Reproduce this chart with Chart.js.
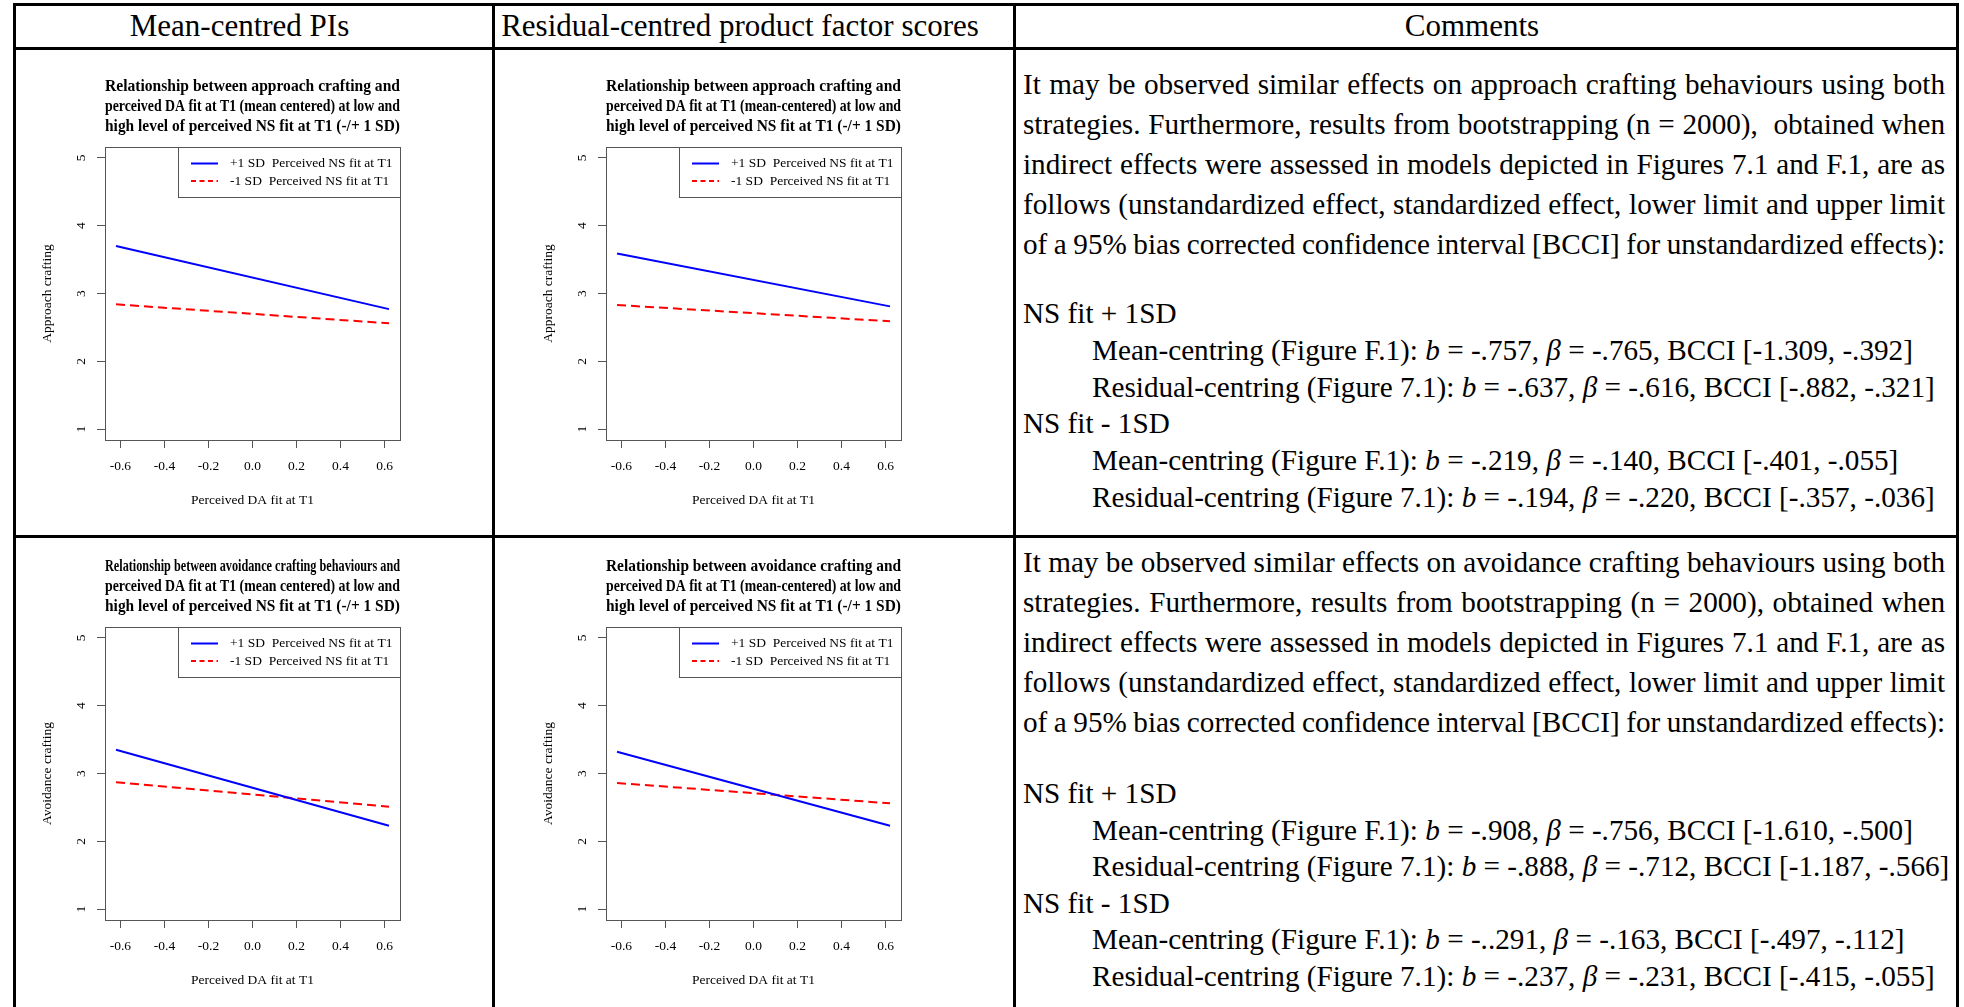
<!DOCTYPE html>
<html>
<head>
<meta charset="utf-8">
<script src="https://cdn.jsdelivr.net/npm/chart.js@4.4.1/dist/chart.umd.min.js"></script>
<style>
  body { margin: 0; background: #fff; }
  #page { position: relative; width: 1964px; height: 1007px; overflow: hidden; font-family: "Liberation Serif", "Times New Roman", serif; color: #000; }
  .hl { position: absolute; height: 3px; background: #000; }
  .vl { position: absolute; width: 3px; background: #000; }
  .head { position: absolute; top: 4px; height: 44px; line-height: 44px; text-align: center; font-size: 31px; white-space: nowrap; }
  canvas { position: absolute; }
  .txt { position: absolute; font-size: 29.2px; white-space: nowrap; line-height: 40px; }
  .jl { display: inline-block; }
  .ind { padding-left: 69px; }
</style>
</head>
<body>
<div id="page">
  <!-- table grid -->
  <div class="hl" style="left:13px; top:3px; width:1946px;"></div>
  <div class="hl" style="left:13px; top:47px; width:1946px;"></div>
  <div class="hl" style="left:13px; top:535px; width:1946px;"></div>
  <div class="vl" style="left:13px; top:3px; height:1004px;"></div>
  <div class="vl" style="left:492px; top:3px; height:1004px;"></div>
  <div class="vl" style="left:1013px; top:3px; height:1004px;"></div>
  <div class="vl" style="left:1956px; top:3px; height:1004px;"></div>

  <div class="head" style="left:0px; width:479px;">Mean-centred PIs</div>
  <div class="head" style="left:480px; width:520px;">Residual-centred product factor scores</div>
  <div class="head" style="left:1001px; width:942px;">Comments</div>

  <canvas id="c1" width="400" height="480" style="left:15px; top:47px;"></canvas>
  <canvas id="c2" width="400" height="480" style="left:516px; top:47px;"></canvas>
  <canvas id="c3" width="400" height="480" style="left:15px; top:527px;"></canvas>
  <canvas id="c4" width="400" height="480" style="left:516px; top:527px;"></canvas>

  <div class="txt" style="left:1023px; top:64px;">
    <span class="jl">It may be observed similar effects on approach crafting behaviours using both</span><br>
    <span class="jl">strategies. Furthermore, results from bootstrapping (n = 2000),&nbsp; obtained when</span><br>
    <span class="jl">indirect effects were assessed in models depicted in Figures 7.1 and F.1, are as</span><br>
    <span class="jl">follows (unstandardized effect, standardized effect, lower limit and upper limit</span><br>
    <span class="jl">of a 95% bias corrected confidence interval [BCCI] for unstandardized effects):</span>
  </div>
  <div class="txt" style="left:1023px; top:295px; line-height:36.8px;">
    NS fit + 1SD<br>
    <span class="ind">Mean-centring (Figure F.1): <i>b</i> = -.757, <i>β</i> = -.765, BCCI [-1.309, -.392]</span><br>
    <span class="ind">Residual-centring (Figure 7.1): <i>b</i> = -.637, <i>β</i> = -.616, BCCI [-.882, -.321]</span><br>
    NS fit - 1SD<br>
    <span class="ind">Mean-centring (Figure F.1): <i>b</i> = -.219, <i>β</i> = -.140, BCCI [-.401, -.055]</span><br>
    <span class="ind">Residual-centring (Figure 7.1): <i>b</i> = -.194, <i>β</i> = -.220, BCCI [-.357, -.036]</span>
  </div>

  <div class="txt" style="left:1023px; top:542px;">
    <span class="jl">It may be observed similar effects on avoidance crafting behaviours using both</span><br>
    <span class="jl">strategies. Furthermore, results from bootstrapping (n = 2000), obtained when</span><br>
    <span class="jl">indirect effects were assessed in models depicted in Figures 7.1 and F.1, are as</span><br>
    <span class="jl">follows (unstandardized effect, standardized effect, lower limit and upper limit</span><br>
    <span class="jl">of a 95% bias corrected confidence interval [BCCI] for unstandardized effects):</span>
  </div>
  <div class="txt" style="left:1023px; top:775px; line-height:36.5px;">
    NS fit + 1SD<br>
    <span class="ind">Mean-centring (Figure F.1): <i>b</i> = -.908, <i>β</i> = -.756, BCCI [-1.610, -.500]</span><br>
    <span class="ind">Residual-centring (Figure 7.1): <i>b</i> = -.888, <i>β</i> = -.712, BCCI [-1.187, -.566]</span><br>
    NS fit - 1SD<br>
    <span class="ind">Mean-centring (Figure F.1): <i>b</i> = -..291, <i>β</i> = -.163, BCCI [-.497, -.112]</span><br>
    <span class="ind">Residual-centring (Figure 7.1): <i>b</i> = -.237, <i>β</i> = -.231, BCCI [-.415, -.055]</span>
  </div>
</div>

<script>
  // x positions of the two ends of each simple slope
  const xEnds = [-0.62, 0.62];
  const xTicks = [-0.6, -0.4, -0.2, 0.0, 0.2, 0.4, 0.6];
  const yTicks = [1, 2, 3, 4, 5];
  const seriesLabels = ['+1 SD  Perceived NS fit at T1', '-1 SD  Perceived NS fit at T1'];
  const xTitle = 'Perceived DA fit at T1';

  // approach crafting
  const approachMeanHigh = [3.70, 2.77];
  const approachMeanLow = [2.84, 2.56];
  const approachResHigh = [3.59, 2.81];
  const approachResLow = [2.83, 2.59];

  // avoidance crafting
  const avoidMeanHigh = [3.35, 2.23];
  const avoidMeanLow = [2.87, 2.51];
  const avoidResHigh = [3.32, 2.23];
  const avoidResLow = [2.86, 2.56];

  const serif = '"Liberation Serif", "Times New Roman", serif';
  const frameColor = '#555';
  const fontSize = 13.5;
  const paraWidth = 922;

  // justify the comment paragraphs to the column width
  document.querySelectorAll('.jl').forEach(el => {
    const spaces = (el.textContent.match(/[ \u00a0]/g) || []).length;
    const w = el.getBoundingClientRect().width;
    if (spaces > 0) el.style.wordSpacing = ((paraWidth - w) / spaces) + 'px';
  });

  // R style box around the plot region
  const plotBox = {
    id: 'plotBox',
    afterDatasetsDraw(chart) {
      const a = chart.chartArea;
      const ctx = chart.ctx;
      ctx.save();
      ctx.strokeStyle = frameColor;
      ctx.lineWidth = 1;
      ctx.strokeRect(Math.round(a.left) + 0.5, Math.round(a.top) + 0.5, Math.round(a.right - a.left), Math.round(a.bottom - a.top));
      ctx.restore();
    }
  };

  // legend drawn inside the plot, top right, like legend("topright")
  const insideLegend = {
    id: 'insideLegend',
    afterDraw(chart) {
      const a = chart.chartArea;
      const ctx = chart.ctx;
      const sets = chart.data.datasets;
      ctx.save();
      ctx.font = fontSize + 'px ' + serif;
      const textW = Math.max(...sets.map(d => ctx.measureText(d.label).width));
      const w = Math.round(52 + textW + 8);
      const h = 50;
      const x0 = Math.round(a.right) - w;
      const y0 = Math.round(a.top);
      ctx.fillStyle = '#fff';
      ctx.fillRect(x0, y0, w, h);
      ctx.strokeStyle = frameColor;
      ctx.lineWidth = 1;
      ctx.strokeRect(x0 + 0.5, y0 + 0.5, w, h);
      sets.forEach((d, i) => {
        const y = y0 + 16.5 + i * 17.5;
        ctx.strokeStyle = d.borderColor;
        ctx.lineWidth = d.borderWidth;
        ctx.setLineDash(d.borderDash ? [5, 3.5] : []);
        ctx.beginPath();
        ctx.moveTo(x0 + 13, y);
        ctx.lineTo(x0 + 40, y);
        ctx.stroke();
        ctx.setLineDash([]);
        ctx.fillStyle = '#000';
        ctx.textBaseline = 'middle';
        ctx.fillText(d.label, x0 + 52, y);
      });
      ctx.restore();
    }
  };

  function toPoints(vals) {
    return xEnds.map((x, i) => ({ x: x, y: vals[i] }));
  }

  function makeChart(id, titleLines, yTitle, highVals, lowVals) {
    const ctx = document.getElementById(id);
    new Chart(ctx, {
      type: 'line',
      data: {
        datasets: [{
          label: seriesLabels[0],
          data: toPoints(highVals),
          borderColor: '#0000ff',
          borderWidth: 2,
          pointRadius: 0
        }, {
          label: seriesLabels[1],
          data: toPoints(lowVals),
          borderColor: '#ff0000',
          borderWidth: 2,
          borderDash: [9, 5],
          pointRadius: 0
        }]
      },
      options: {
        responsive: false,
        animation: false,
        devicePixelRatio: 1,
        layout: { padding: { left: 0, right: 15, top: 0, bottom: 0 } },
        plugins: {
          legend: { display: false },
          tooltip: { enabled: false },
          title: {
            display: true,
            fullSize: false,
            text: titleLines,
            color: '#000',
            font: { family: serif, size: 16.9, weight: 'bold', lineHeight: '20px' },
            padding: { top: 30, bottom: 10 }
          }
        },
        scales: {
          x: {
            type: 'linear',
            min: -0.67,
            max: 0.67,
            afterBuildTicks: scale => { scale.ticks = xTicks.map(v => ({ value: v })); },
            afterFit: scale => { scale.height = 87; },
            grid: { drawOnChartArea: false, drawTicks: true, tickLength: 8, color: frameColor },
            border: { display: false },
            ticks: {
              color: '#000',
              padding: 10,
              maxRotation: 0,
              font: { family: serif, size: fontSize },
              callback: v => v.toFixed(1)
            },
            title: {
              display: true,
              text: xTitle,
              color: '#000',
              font: { family: serif, size: fontSize },
              padding: { top: 0, bottom: 18 }
            }
          },
          y: {
            type: 'linear',
            min: 0.84,
            max: 5.16,
            afterBuildTicks: scale => { scale.ticks = yTicks.map(v => ({ value: v })); },
            afterFit: scale => { scale.width = 90; },
            grid: { drawOnChartArea: false, drawTicks: true, tickLength: 8, color: frameColor },
            border: { display: false },
            ticks: {
              color: '#000',
              padding: 12,
              minRotation: 90,
              maxRotation: 90,
              crossAlign: 'center',
              font: { family: serif, size: fontSize },
              callback: v => String(v)
            },
            title: {
              display: true,
              text: yTitle,
              color: '#000',
              font: { family: serif, size: fontSize },
              padding: { top: 24, bottom: 0 }
            }
          }
        }
      },
      plugins: [plotBox, insideLegend]
    });
  }

  makeChart('c1', [
    'Relationship between approach crafting and',
    'perceived DA fit at T1 (mean centered) at low and',
    'high level of perceived NS fit at T1 (-/+ 1 SD)'
  ], 'Approach crafting', approachMeanHigh, approachMeanLow);

  makeChart('c2', [
    'Relationship between approach crafting and',
    'perceived DA fit at T1 (mean-centered) at low and',
    'high level of perceived NS fit at T1 (-/+ 1 SD)'
  ], 'Approach crafting', approachResHigh, approachResLow);

  makeChart('c3', [
    'Relationship between avoidance crafting behaviours and',
    'perceived DA fit at T1 (mean centered) at low and',
    'high level of perceived NS fit at T1 (-/+ 1 SD)'
  ], 'Avoidance crafting', avoidMeanHigh, avoidMeanLow);

  makeChart('c4', [
    'Relationship between avoidance crafting and',
    'perceived DA fit at T1 (mean-centered) at low and',
    'high level of perceived NS fit at T1 (-/+ 1 SD)'
  ], 'Avoidance crafting', avoidResHigh, avoidResLow);
</script>
</body>
</html>
